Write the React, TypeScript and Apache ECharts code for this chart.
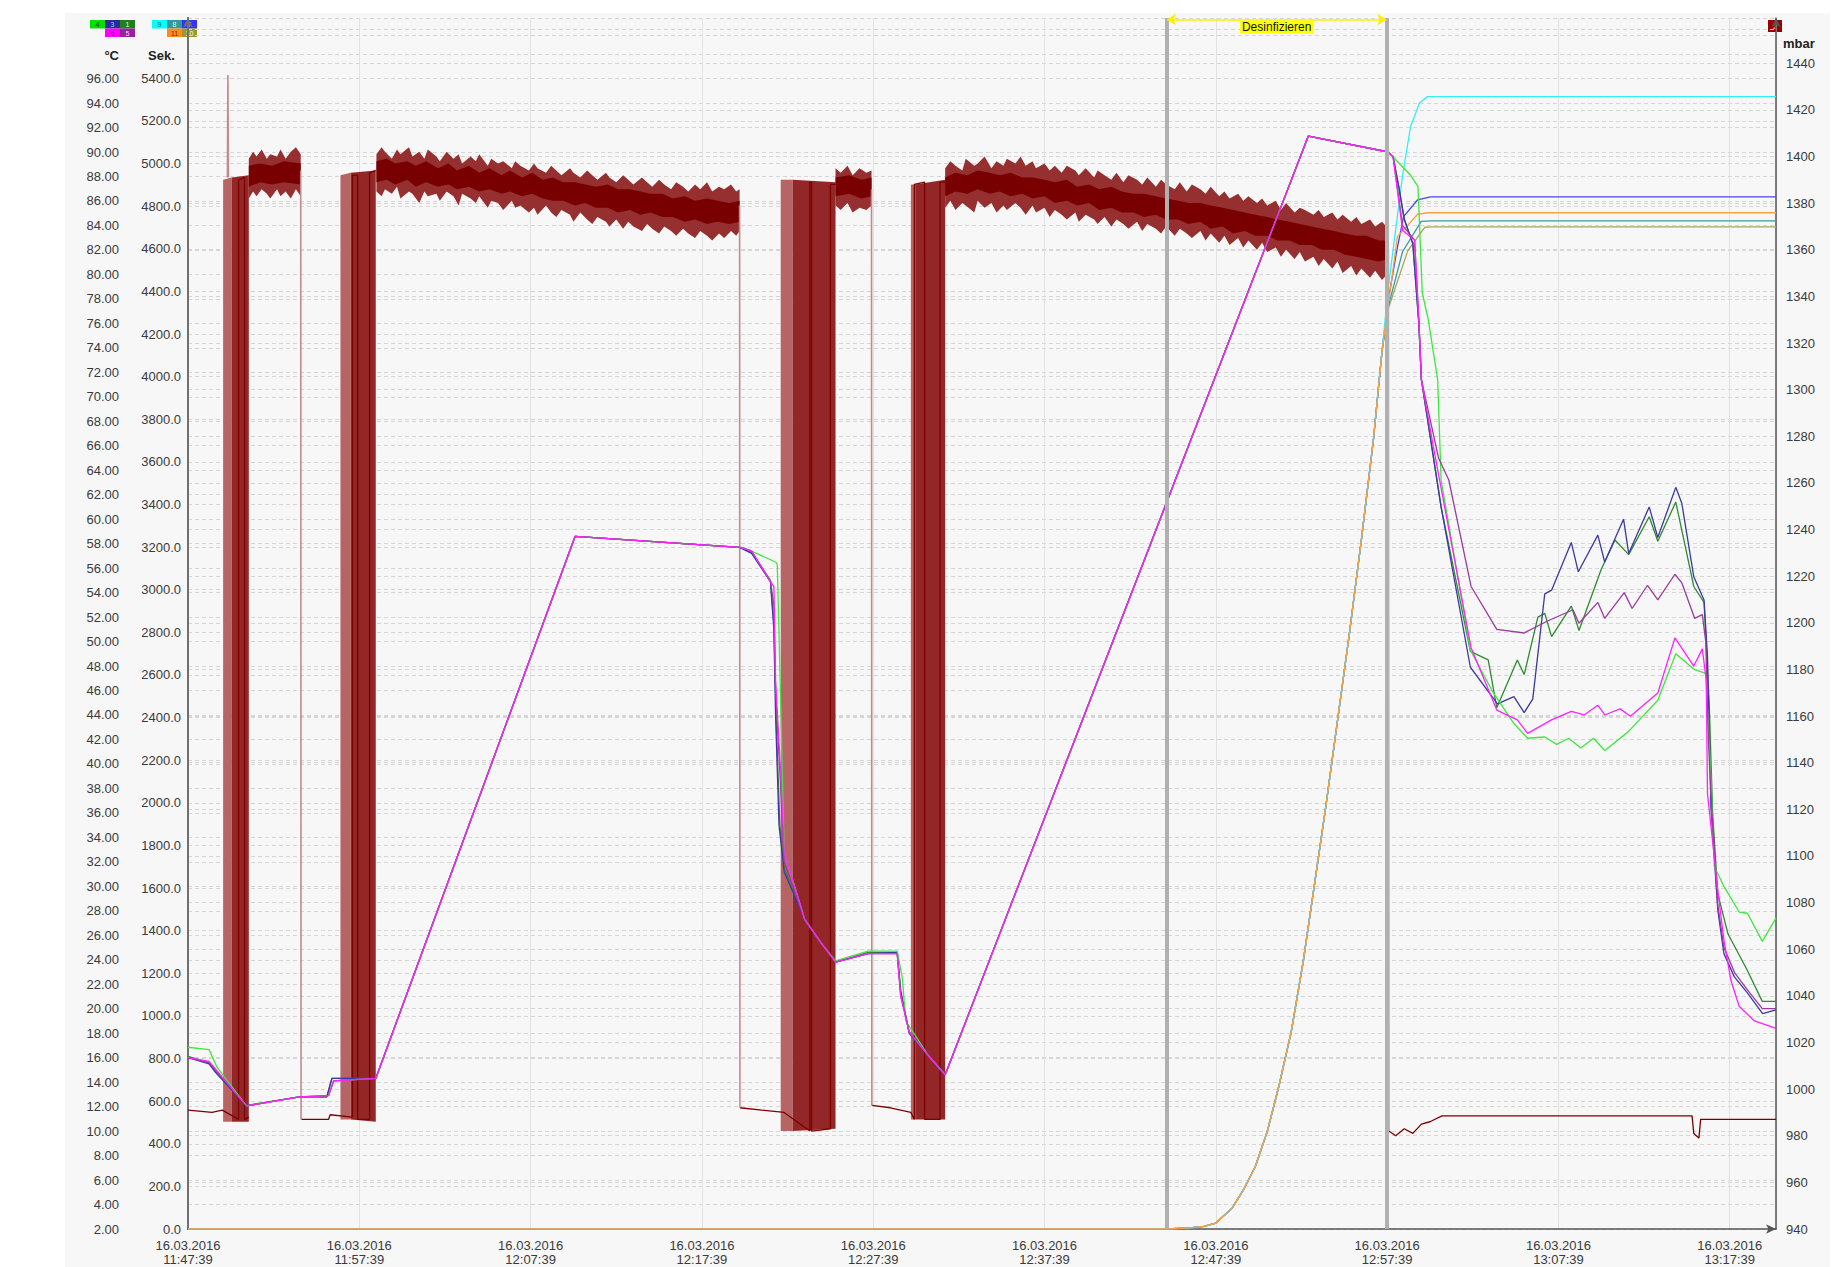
import React, { useEffect, useRef } from 'react';
import * as echarts from 'echarts';

// ---------------- data ----------------
const dateLabel = '16.03.2016';
const timeLabels = ['11:47:39', '11:57:39', '12:07:39', '12:17:39', '12:27:39', '12:37:39', '12:47:39', '12:57:39', '13:07:39', '13:17:39'];
const tMax = 92.7; // minutes after 11:47:39

const phaseStart = 57.15;
const phaseEnd = 69.95;
const phaseLabel = 'Desinfizieren';

// temperatures (°C) : [minutes, value]
const riseA = [[10.96, 14.3], [22.6, 58.6], [32.2, 57.7]];
const riseB = [[44.2, 14.6], [65.4, 91.3], [70.07, 90.0]];

const temp6 = [
  [0, 16.0], [1.23, 15.7], [3.42, 12.06], [6.5, 12.8], [8.2, 12.9], [8.5, 14.1], ...riseA,
  [32.9, 57.4], [34.0, 54.9], [34.2, 54.5], [34.3, 46.8], [34.6, 39.2], [34.8, 32.8], [36.0, 27.3], [37.0, 25.3], [37.8, 23.8],
  [39.7, 24.5], [41.4, 24.5], [41.6, 21.0], [42.1, 18.1], [43.2, 16.2], ...riseB,
  [70.35, 89.6], [70.9, 83.6], [71.6, 82.8], [71.85, 76.3], [72.0, 71.4], [72.7, 65.9], [74.9, 49.5], [76.4, 44.4], [77.6, 43.6],
  [78.2, 42.5], [79.6, 43.6], [80.75, 44.3], [81.5, 44.0], [82.3, 44.8], [82.7, 44.0], [83.6, 44.5], [84.2, 43.9], [85.8, 45.8],
  [86.8, 50.3], [87.9, 48.0], [88.4, 49.4], [88.63, 46.8], [88.7, 37.6], [89.3, 29.7], [89.66, 25.6], [90.07, 22.3], [90.55, 20.2],
  [91.44, 19.0], [92.7, 18.4],
];
const temp3 = [
  [0, 16.0], [1.23, 15.5], [1.6, 14.8], [3.42, 12.06], [6.5, 12.8], [8.1, 12.8], [8.4, 14.3], ...riseA,
  [32.9, 57.2], [34.0, 54.9], [34.2, 51.0], [34.3, 44.0], [34.5, 35.0], [34.8, 31.2], [36.0, 27.3], [37.0, 25.3], [37.8, 23.8],
  [39.7, 24.5], [41.4, 24.6], [41.6, 21.5], [42.1, 18.0], [43.2, 16.2], ...riseB,
  [70.35, 89.6], [70.7, 87.0], [71.0, 84.5], [71.5, 82.5], [71.85, 76.0], [72.0, 71.4], [73.15, 61.0], [74.86, 47.9], [76.44, 44.9],
  [77.4, 45.5], [78.0, 44.2], [78.5, 45.3], [79.2, 53.9], [79.6, 54.2], [80.75, 58.1], [81.16, 55.7], [82.3, 58.7], [82.7, 56.5],
  [83.8, 60.0], [84.1, 57.2], [85.3, 61.0], [85.8, 58.5], [86.85, 62.6], [87.2, 61.3], [87.9, 55.3], [88.5, 53.4], [88.7, 48.8],
  [88.9, 36.5], [89.3, 28.1], [89.66, 24.5], [90.27, 22.6], [91.03, 21.3], [91.92, 19.6], [92.7, 19.9],
];
const temp1 = [
  [0, 16.1], [1.23, 15.6], [1.6, 14.9], [3.42, 12.1], [6.5, 12.8], [8.1, 12.8], [8.4, 14.3], ...riseA,
  [32.9, 57.3], [34.0, 55.0], [34.2, 51.5], [34.35, 43.0], [34.55, 35.0], [34.8, 31.5], [36.0, 27.3], [37.0, 25.3], [37.8, 23.8],
  [39.7, 24.6], [41.4, 24.6], [41.6, 21.4], [42.1, 18.0], [43.2, 16.2], ...riseB,
  [70.35, 89.6], [70.7, 87.0], [71.0, 84.5], [71.5, 82.5], [71.85, 76.0], [72.0, 71.4], [73.15, 61.0], [74.86, 49.2], [75.9, 48.5],
  [76.4, 44.6], [77.6, 48.5], [78.0, 47.3], [78.8, 52.0], [79.2, 52.3], [79.6, 50.4], [80.75, 52.9], [81.2, 50.9], [82.5, 55.9],
  [83.3, 58.3], [84.1, 57.1], [85.3, 60.2], [85.8, 58.2], [86.85, 61.4], [87.9, 54.5], [88.5, 53.2], [88.8, 45.0], [89.0, 36.0],
  [89.3, 29.4], [89.9, 26.1], [91.0, 23.2], [91.9, 20.6], [92.7, 20.6],
];
const temp5 = [
  [0, 16.0], [1.23, 15.6], [3.42, 12.06], [6.5, 12.8], [8.2, 12.9], [8.5, 14.1], ...riseA,
  [32.9, 57.4], [34.0, 54.9], [34.2, 53.0], [34.3, 46.0], [34.6, 38.0], [34.8, 32.0], [36.0, 27.3], [37.0, 25.3], [37.8, 23.8],
  [39.7, 24.5], [41.4, 24.5], [41.6, 21.2], [42.1, 18.1], [43.2, 16.2], ...riseB,
  [70.35, 89.6], [70.9, 84.0], [71.6, 82.8], [71.85, 76.3], [72.0, 71.4], [73.0, 65.0], [73.6, 63.2], [74.9, 54.5], [76.4, 51.0],
  [78.0, 50.7], [79.4, 51.7], [80.85, 52.6], [81.2, 51.5], [82.3, 53.2], [82.7, 51.9], [83.84, 54.0], [84.3, 52.7], [85.2, 54.6],
  [85.8, 53.4], [86.8, 55.5], [87.2, 54.8], [87.95, 51.9], [88.4, 52.2], [88.6, 50.0], [88.75, 42.0], [89.0, 35.0], [89.3, 28.5],
  [89.66, 25.0], [90.3, 22.9], [91.0, 21.6], [91.9, 20.0], [92.7, 20.0],
];
const temp4 = [
  [0, 16.85], [1.23, 16.66], [1.7, 15.2], [3.42, 12.06], [6.5, 12.8], [8.2, 12.9], [8.5, 14.1], ...riseA,
  [32.4, 57.7], [34.3, 56.5], [34.4, 56.3], [34.6, 44.9], [34.8, 32.8], [36.0, 27.3], [37.0, 25.3], [37.8, 23.9],
  [39.7, 24.7], [41.4, 24.7], [41.7, 22.5], [41.9, 19.0], [43.2, 16.2], ...riseB,
  [71.37, 88.1], [71.8, 87.2], [72.05, 78.5], [72.4, 76.3], [72.95, 71.4], [73.15, 63.2], [74.86, 49.3], [76.2, 45.8], [77.4, 43.3],
  [78.2, 42.1], [79.2, 42.2], [79.9, 41.6], [80.6, 42.1], [81.3, 41.3], [82.05, 42.1], [82.7, 41.1], [84.05, 42.6], [85.8, 45.2],
  [86.85, 49.0], [87.95, 47.7], [88.6, 47.4], [88.9, 38.7], [89.1, 31.6], [89.66, 30.0], [90.55, 27.9], [91.03, 27.8],
  [91.9, 25.5], [92.7, 27.4],
];

// seconds (Sek.) : [minutes, value]
const sekRise = [
  [0, 0], [57.15, 0], [58.5, 5], [59.3, 12], [60.0, 28], [60.96, 99], [61.6, 182], [62.3, 292], [63.0, 457], [63.7, 677],
  [64.4, 925], [65.1, 1255], [65.75, 1613], [66.4, 1971], [67.1, 2384], [67.8, 2797], [68.5, 3237], [69.2, 3705], [69.7, 4118],
];
const sek9 = [...sekRise, [70.07, 4420], [70.9, 4943], [71.37, 5175], [71.9, 5285], [72.36, 5314], [92.7, 5314]];
const sek7 = [...sekRise, [70.07, 4360], [70.55, 4586], [70.96, 4751], [71.78, 4830], [72.53, 4844], [92.7, 4844]];
const sek11 = [...sekRise, [70.07, 4340], [70.6, 4657], [71.78, 4762], [72.4, 4769], [92.7, 4769]];
const sek8 = [...sekRise, [70.07, 4330], [70.9, 4586], [71.99, 4729], [72.6, 4731], [92.7, 4731]];
const sek10 = [...sekRise, [70.07, 4320], [71.2, 4590], [72.2, 4701], [72.7, 4703], [92.7, 4703]];

// pressure (mbar) : [minutes, value]; '-' breaks the line
const mbarLine = [
  [0, 991], [1.4, 990], [2.0, 991], [2.95, 987], [2.95, 1390], [3.3, 1391], [3.3, 987], [3.55, 988], [3.55, '-'],
  [6.62, 987], [8.2, 987], [8.3, 989], [9.6, 988], [9.6, 1392], [9.9, 1392], [9.9, 987], [10.6, 987], [10.6, 1393], [10.96, 1394], [10.96, '-'],
  [32.22, 992], [33.5, 991], [34.8, 990], [36.3, 982], [36.3, 1389], [36.4, 1389], [36.4, 982], [37.5, 983], [37.5, 1388], [37.8, 1388], [37.8, '-'],
  [39.92, 993], [41.0, 992], [42.2, 990], [42.4, 987], [42.4, 1388], [43.0, 1389], [43.0, 987], [43.9, 987], [43.9, 1389], [44.2, 1389], [44.2, '-'],
  [70.1, 982], [70.5, 980], [71.0, 983], [71.5, 981], [72.0, 985], [72.5, 986], [73.2, 988.5], [87.8, 988.5], [87.9, 981], [88.2, 979],
  [88.3, 987], [92.7, 987],
];
const mbarJumps = [
  [2.3, 1391], [2.33, 1435], [2.36, 1391], [2.36, '-'],
  [6.58, 1394], [6.6, 987], [6.6, '-'],
  [32.2, 1379], [32.22, 992], [32.22, '-'],
  [39.9, 1386], [39.92, 993], [39.92, '-'],
  [70.07, 1360], [70.1, 982],
];
// rapid oscillation blocks : [minutes, low, high]
const bandD1a = [[2.05, 986, 1390], [2.55, 986, 1391]];
const bandD1b = [[2.55, 986, 1391], [3.55, 986, 1392]];
const bandD2a = [[8.9, 987, 1392], [9.5, 987, 1393]];
const bandD2b = [[9.5, 987, 1393], [10.96, 986, 1394]];
const bandD3a = [[34.6, 982, 1390], [35.3, 982, 1390]];
const bandD3b = [[35.3, 982, 1390], [37.8, 983, 1389]];
const bandD4a = [[42.2, 987, 1388], [42.45, 987, 1388]];
const bandD4b = [[42.45, 987, 1388], [44.2, 987, 1390]];
// noise envelope (outer spikes) : [minutes, low, high]
const noiseN1 = [[3.55, 1382, 1399], [3.8, 1385, 1402], [4.0, 1383, 1400], [4.3, 1386, 1403], [4.6, 1384, 1399], [4.8, 1382, 1401],
  [5.2, 1386, 1400], [5.4, 1383, 1403], [5.7, 1385, 1399], [6.0, 1382, 1402], [6.3, 1386, 1404], [6.58, 1383, 1401]];
const noiseN2 = [
  [11.0, 1385, 1401], [11.3, 1383, 1404], [11.5, 1386, 1402], [11.9, 1384, 1399], [12.2, 1387, 1403], [12.4, 1382, 1401],
  [12.9, 1385, 1404], [13.1, 1384, 1400], [13.5, 1380, 1402], [13.8, 1385, 1399], [14.0, 1383, 1403], [14.5, 1384, 1400],
  [14.7, 1381, 1398], [15.1, 1385, 1402], [15.5, 1383, 1399], [15.8, 1379, 1401], [16.0, 1384, 1397], [16.5, 1382, 1400],
  [16.8, 1380, 1398], [17.0, 1383, 1401], [17.5, 1378, 1396], [17.7, 1381, 1399], [18.1, 1380, 1397], [18.4, 1377, 1398],
  [18.9, 1381, 1395], [19.1, 1378, 1398], [19.4, 1379, 1396], [19.9, 1376, 1394], [20.2, 1378, 1397], [20.4, 1375, 1395],
  [20.9, 1379, 1393], [21.2, 1376, 1396], [21.5, 1374, 1394], [21.8, 1377, 1392], [22.3, 1375, 1395], [22.5, 1372, 1393],
  [22.9, 1376, 1391], [23.3, 1373, 1394], [23.6, 1371, 1392], [23.9, 1374, 1390], [24.4, 1372, 1393], [24.6, 1370, 1391],
  [25.0, 1373, 1389], [25.4, 1369, 1392], [25.7, 1372, 1390], [26.0, 1370, 1388], [26.5, 1368, 1391], [26.8, 1371, 1389],
  [27.1, 1369, 1387], [27.5, 1367, 1390], [27.8, 1370, 1388], [28.2, 1368, 1386], [28.5, 1366, 1389], [28.9, 1369, 1387],
  [29.2, 1367, 1385], [29.6, 1365, 1388], [29.9, 1368, 1386], [30.3, 1366, 1389], [30.6, 1364, 1385], [31.0, 1367, 1387],
  [31.3, 1365, 1386], [31.7, 1368, 1388], [32.0, 1366, 1385], [32.2, 1368, 1386],
];
const noiseN3 = [[37.8, 1379, 1395], [38.1, 1377, 1393], [38.5, 1380, 1396], [38.8, 1376, 1392], [39.2, 1378, 1395], [39.6, 1377, 1393], [39.9, 1379, 1394]];
const noiseN4 = [
  [44.2, 1378, 1395], [44.5, 1381, 1398], [44.8, 1377, 1396], [45.2, 1380, 1394], [45.4, 1379, 1399], [45.9, 1376, 1396],
  [46.1, 1381, 1397], [46.5, 1378, 1400], [46.9, 1380, 1395], [47.2, 1376, 1398], [47.6, 1379, 1396], [47.8, 1377, 1399],
  [48.3, 1380, 1397], [48.6, 1378, 1400], [48.9, 1375, 1396], [49.3, 1379, 1398], [49.5, 1376, 1395], [50.0, 1378, 1397],
  [50.3, 1374, 1394], [50.6, 1377, 1396], [51.0, 1375, 1393], [51.3, 1373, 1396], [51.8, 1376, 1394], [52.0, 1372, 1392],
  [52.4, 1375, 1395], [52.9, 1373, 1391], [53.1, 1371, 1394], [53.5, 1374, 1392], [53.9, 1370, 1390], [54.2, 1373, 1393],
  [54.6, 1371, 1389], [54.9, 1369, 1392], [55.4, 1372, 1390], [55.7, 1368, 1388], [56.0, 1371, 1391], [56.5, 1369, 1387],
  [56.8, 1367, 1390], [57.1, 1370, 1388], [57.6, 1366, 1386], [57.9, 1369, 1389], [58.3, 1367, 1385], [58.6, 1365, 1388],
  [59.1, 1368, 1386], [59.4, 1364, 1384], [59.7, 1367, 1387], [60.2, 1363, 1383], [60.5, 1366, 1385], [60.8, 1362, 1382],
  [61.3, 1365, 1384], [61.6, 1361, 1381], [61.9, 1364, 1383], [62.4, 1360, 1380], [62.7, 1363, 1382], [63.0, 1359, 1379],
  [63.5, 1361, 1381], [63.8, 1357, 1377], [64.1, 1360, 1380], [64.6, 1356, 1376], [64.9, 1359, 1378], [65.2, 1355, 1377],
  [65.7, 1357, 1375], [66.0, 1353, 1377], [66.3, 1356, 1374], [66.8, 1352, 1376], [67.1, 1355, 1373], [67.4, 1350, 1375],
  [67.9, 1353, 1372], [68.2, 1349, 1374], [68.5, 1352, 1371], [69.0, 1348, 1373], [69.3, 1351, 1370], [69.7, 1347, 1372],
  [70.07, 1350, 1369],
];
// noise core (dense part) : [minutes, low, high]
const coreN1 = [[3.55, 1387, 1396], [4.2, 1389, 1397], [4.9, 1388, 1396], [5.6, 1389, 1398], [6.58, 1388, 1397]];
const coreN2 = [
  [11.0, 1389, 1398], [11.6, 1390, 1399], [12.1, 1388, 1397], [12.8, 1390, 1398], [13.3, 1387, 1396], [13.9, 1389, 1398],
  [14.6, 1387, 1395], [15.2, 1388, 1397], [15.7, 1386, 1394], [16.4, 1387, 1396], [17.0, 1385, 1393], [17.6, 1386, 1395],
  [18.3, 1384, 1392], [18.8, 1385, 1394], [19.5, 1383, 1391], [20.1, 1384, 1393], [20.7, 1382, 1390], [21.3, 1381, 1391],
  [21.9, 1381, 1389], [22.6, 1379, 1389], [23.2, 1380, 1388], [23.8, 1378, 1387], [24.5, 1378, 1388], [25.1, 1376, 1386],
  [25.8, 1377, 1386], [26.4, 1375, 1385], [27.0, 1376, 1384], [27.7, 1374, 1384], [28.3, 1374, 1382], [29.0, 1372, 1383],
  [29.6, 1373, 1381], [30.3, 1371, 1382], [30.9, 1372, 1381], [31.6, 1371, 1380], [32.2, 1372, 1381],
];
const coreN3 = [[37.8, 1383, 1391], [38.6, 1384, 1392], [39.3, 1382, 1390], [39.9, 1383, 1391]];
const coreN4 = [
  [44.2, 1383, 1391], [44.8, 1385, 1393], [45.5, 1384, 1392], [46.1, 1386, 1394], [46.8, 1384, 1393], [47.4, 1385, 1392],
  [48.0, 1383, 1393], [48.7, 1384, 1391], [49.3, 1382, 1391], [50.0, 1383, 1390], [50.6, 1380, 1389], [51.3, 1381, 1390],
  [51.9, 1379, 1387], [52.6, 1380, 1388], [53.2, 1377, 1386], [53.9, 1378, 1387], [54.5, 1376, 1385], [55.2, 1376, 1384],
  [55.8, 1374, 1384], [56.5, 1375, 1383], [57.1, 1373, 1382], [57.8, 1373, 1381], [58.4, 1371, 1380], [59.1, 1372, 1380],
  [59.7, 1369, 1379], [60.4, 1370, 1378], [61.0, 1367, 1377], [61.7, 1368, 1376], [62.3, 1366, 1375], [63.0, 1366, 1374],
  [63.6, 1364, 1373], [64.3, 1364, 1372], [64.9, 1362, 1371], [65.6, 1362, 1370], [66.2, 1360, 1369], [66.9, 1360, 1368],
  [67.5, 1358, 1367], [68.2, 1357, 1366], [68.8, 1356, 1366], [69.5, 1355, 1364], [70.07, 1356, 1364],
];
const lightBlocks = [bandD1a, bandD2a, bandD3a, bandD4a];
const denseBlocks = [bandD1b, bandD2b, bandD3b, bandD4b];
const noiseOuter = [noiseN1, noiseN2, noiseN3, noiseN4];
const noiseCore = [coreN1, coreN2, coreN3, coreN4];

// legend chips
const tempChipsTop = [['4', '#00e000', '#003300'], ['3', '#2a2a9a', '#9fd0ff'], ['1', '#1f7f1f', '#d8ffd8']];
const tempChipsBottom = [['6', '#ff00ff', '#800080'], ['5', '#992299', '#ffd0ff']];
const sekChipsTop = [['9', '#00ffff', '#006666'], ['8', '#339999', '#d0ffff'], ['7', '#3333ff', '#d0d0ff']];
const sekChipsBottom = [['11', '#ff8c1a', '#663300'], ['10', '#999933', '#ffffcc']];
const mbarChip = ['2', '#990000', '#ffcccc'];

// ---------------- chart ----------------
const FONT = '"Liberation Sans", Arial, sans-serif';
const LABEL = '#3a3a3a';

function chip(label: string, fill: string, txt: string, x: number, y: number, w: number, h: number) {
  return [
    { type: 'rect', shape: { x, y, width: w, height: h }, style: { fill } },
    {
      type: 'text',
      style: {
        text: label, x: x + w / 2, y: y + h / 2 + 0.5, fill: txt, font: `7px ${FONT}`,
        align: 'center', verticalAlign: 'middle', textAlign: 'center', textVerticalAlign: 'middle',
      },
    },
  ];
}

function buildGraphic() {
  const els: any[] = [];
  const w = 15;
  const h = 8.5;
  tempChipsTop.forEach((c, i) => els.push(...chip(c[0], c[1], c[2], 25 + i * w, 7, w, h)));
  tempChipsBottom.forEach((c, i) => els.push(...chip(c[0], c[1], c[2], 40 + i * w, 7 + h, w, h)));
  sekChipsTop.forEach((c, i) => els.push(...chip(c[0], c[1], c[2], 87 + i * w, 7, w, h)));
  sekChipsBottom.forEach((c, i) => els.push(...chip(c[0], c[1], c[2], 102 + i * w, 7 + h, w, h)));
  els.push(...chip(mbarChip[0], mbarChip[1], mbarChip[2], 1703, 7, 14, 12));
  const nameStyle = (text: string, x: number, y: number, align: string) => ({
    type: 'text',
    style: { text, x, y, fill: '#222', font: `bold 13px ${FONT}`, align, textAlign: align, verticalAlign: 'middle', textVerticalAlign: 'middle' },
  });
  els.push(nameStyle('°C', 54, 42, 'right'));
  els.push(nameStyle('Sek.', 83, 42, 'left'));
  els.push(nameStyle('mbar', 1718, 30, 'left'));
  return els;
}

function lineSeries(name: string, data: any[], color: string, yAxisIndex: number, width = 1.3, extra: any = {}) {
  return {
    name, type: 'line', data, yAxisIndex, showSymbol: false, symbol: 'none', connectNulls: false,
    lineStyle: { color, width }, itemStyle: { color }, emphasis: { disabled: true }, silent: true, ...extra,
  };
}

function bandSeries(name: string, list: number[][][], fill: string) {
  return {
    name, type: 'custom', yAxisIndex: 2, silent: true,
    encode: { x: 0, y: 1 },
    data: list.map((b, i) => [b[0][0], b[0][1], i]),
    renderItem: (params: any, api: any) => {
      const b = list[params.dataIndex];
      const top = b.map((p) => api.coord([p[0], p[2]]));
      const bot = b.slice().reverse().map((p) => api.coord([p[0], p[1]]));
      return { type: 'polygon', shape: { points: top.concat(bot) }, style: { fill } };
    },
  };
}

const splitDash = { show: true, lineStyle: { color: '#d6d6d6', type: [4, 3], width: 1 } };

const option: any = {
  animation: false,
  backgroundColor: 'transparent',
  textStyle: { fontFamily: FONT },
  grid: { left: 123, right: 54, top: 5, bottom: 38 },
  xAxis: {
    type: 'value', min: 0, max: tMax, interval: 10,
    axisLine: { show: true, lineStyle: { color: '#555', width: 1.5 }, symbol: ['none', 'arrow'], symbolSize: [7, 10] },
    axisTick: { show: false },
    splitLine: { show: true, lineStyle: { color: '#e2e2e2', width: 1 } },
    axisLabel: {
      color: LABEL, fontSize: 13, lineHeight: 14, margin: 9, fontFamily: FONT, showMaxLabel: false,
      formatter: (v: number) => {
        const i = Math.round(v / 10);
        if (Math.abs(v - i * 10) > 0.01 || !timeLabels[i]) return '';
        return dateLabel + '\n' + timeLabels[i];
      },
    },
  },
  yAxis: [
    {
      type: 'value', position: 'left', offset: 60, min: 2, max: 100.95, interval: 2,
      axisLine: { show: true, lineStyle: { color: '#707070', width: 2 }, symbol: ['none', 'arrow'], symbolSize: [7, 9] },
      axisTick: { show: false },
      splitLine: splitDash,
      axisLabel: { color: LABEL, fontSize: 13, margin: 9, fontFamily: FONT, formatter: (v: number) => (v > 96.01 ? '' : v.toFixed(2)) },
    },
    {
      type: 'value', position: 'left', offset: 0, min: 0, max: 5683, interval: 200,
      axisLine: { show: true, lineStyle: { color: '#707070', width: 2 }, symbol: ['none', 'arrow'], symbolSize: [7, 9] },
      axisTick: { show: false },
      splitLine: splitDash,
      axisLabel: { color: LABEL, fontSize: 13, margin: 7, fontFamily: FONT, formatter: (v: number) => (v > 5400.1 ? '' : v.toFixed(1)) },
    },
    {
      type: 'value', position: 'right', offset: 0, min: 940, max: 1459.4, interval: 20,
      axisLine: { show: true, lineStyle: { color: '#555', width: 1.5 }, symbol: ['none', 'arrow'], symbolSize: [7, 9] },
      axisTick: { show: false },
      splitLine: splitDash,
      axisLabel: { color: LABEL, fontSize: 13, margin: 10, fontFamily: FONT, formatter: (v: number) => (v > 1440.1 ? '' : String(v)) },
    },
  ],
  graphic: buildGraphic(),
  series: [
    bandSeries('2 light', lightBlocks, '#b76464'),
    bandSeries('2 dense', denseBlocks, '#932727'),
    bandSeries('2 noise', noiseOuter, '#962f2f'),
    bandSeries('2 core', noiseCore, '#780000'),
    lineSeries('2', mbarLine, '#7d0000', 2, 1.3),
    lineSeries('2 jumps', mbarJumps, '#c48a8a', 2, 1.6),
    lineSeries('10', sek10, '#a8a860', 1, 1.3, {
      clip: false,
      markLine: {
        silent: true, symbol: 'none', animation: false,
        label: { show: false },
        data: [
          { xAxis: phaseStart, lineStyle: { color: '#b0b0b0', width: 4, type: 'solid' } },
          { xAxis: phaseEnd, lineStyle: { color: '#b0b0b0', width: 4, type: 'solid' } },
          [
            { coord: [phaseStart, 5676], symbol: 'arrow', symbolSize: 9 },
            { coord: [phaseEnd, 5676], symbol: 'arrow', symbolSize: 9 },
          ],
        ],
      },
    }),
    lineSeries('8', sek8, '#3a9a9a', 1),
    lineSeries('7', sek7, '#4646f0', 1),
    lineSeries('9', sek9, '#33f0f0', 1),
    lineSeries('11', sek11, '#ffa040', 1),
    lineSeries('1', temp1, '#2e8b2e', 0),
    lineSeries('3', temp3, '#3a3aa0', 0),
    lineSeries('4', temp4, '#3ee83e', 0),
    lineSeries('5', temp5, '#9b3b9b', 0),
    lineSeries('6', temp6, '#ff22ff', 0),
  ],
};

// yellow phase arrow style + label
const phaseLine = option.series[6].markLine.data[2];
phaseLine[0].lineStyle = { color: '#ffee00', width: 1.5, type: 'solid' };
phaseLine[0].label = {
  show: true, formatter: phaseLabel, position: 'insideMiddleBottom', distance: 1,
  backgroundColor: '#ffff00', color: '#111', fontSize: 12, fontFamily: FONT, padding: [1, 2, 0, 2],
};

export default function App() {
  const ref = useRef<HTMLDivElement>(null);
  useEffect(() => {
    const chart = echarts.init(ref.current as HTMLDivElement, null, { renderer: 'svg' });
    chart.setOption(option);
    return () => chart.dispose();
  }, []);
  return (
    <div style={{ position: 'absolute', left: 0, top: 0, width: 1839, height: 1267, background: '#ffffff' }}>
      <div ref={ref} style={{ position: 'absolute', left: 65, top: 13, width: 1765, height: 1254, background: '#f7f7f7' }} />
    </div>
  );
}
